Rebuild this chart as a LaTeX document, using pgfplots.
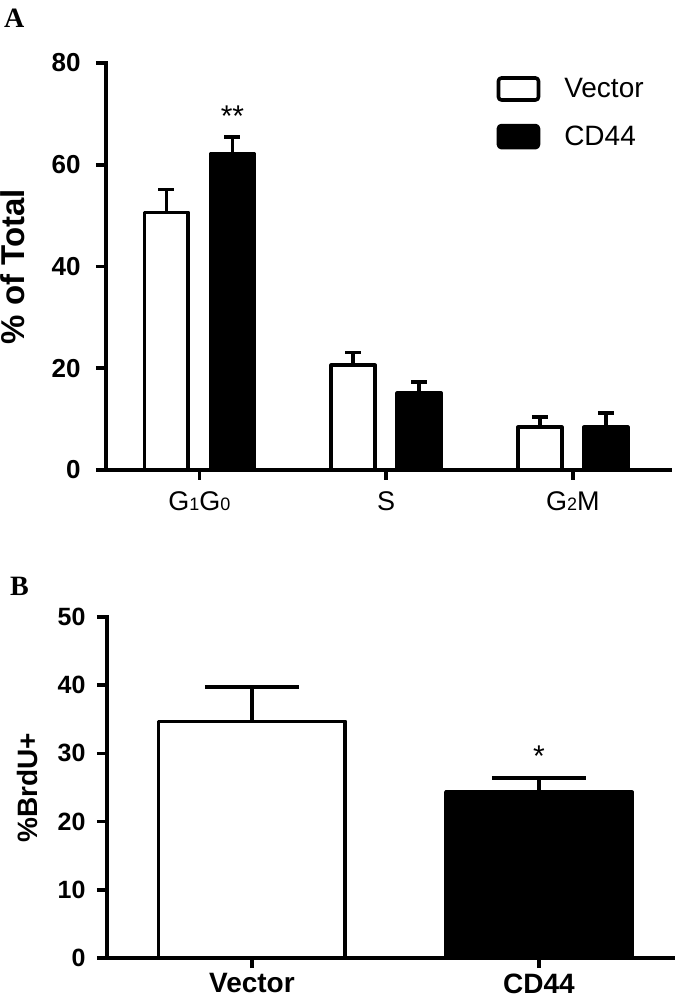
\documentclass[border=0pt]{standalone}
\usepackage{fontspec}
\setmainfont{Liberation Sans}
\newfontfamily\panelfont{Liberation Serif}
\usepackage{pgfplots}
\pgfplotsset{compat=1.18}

\pgfplotsset{
  gp/.style={
    scale only axis,
    axis lines=left,
    axis line style={-, line width=3.6pt, line cap=rect},
    every tick/.style={line width=3.6pt, black},
    tick align=outside,
    major tick length=10pt,
    /pgf/number format/assume math mode=true,
    clip=false,
  },
  vecbar/.style={ybar, bar shift=0pt, fill=white, draw=black, line width=3.6pt,
    line join=round,
    legend image code/.code={\draw[line width=3.6pt, fill=white, rounded corners=3pt] (0pt,-11pt) rectangle (40pt,11pt); \path (62pt,0pt);},
    error bars/y dir=plus, error bars/y explicit,
    error bars/error bar style={line width=3.6pt, black}},
  cdbar/.style={ybar, bar shift=0pt, fill=black, draw=black, line width=3.6pt,
    line join=round,
    legend image code/.code={\draw[line width=3.6pt, fill=black, rounded corners=3pt] (0pt,-11pt) rectangle (40pt,11pt); \path (62pt,0pt);},
    error bars/y dir=plus, error bars/y explicit,
    error bars/error bar style={line width=3.6pt, black}},
}

\begin{document}
\begin{tikzpicture}
\path[use as bounding box] (0pt,0pt) rectangle (683pt,997pt);

% panel letters
\node[font=\panelfont\bfseries\fontsize{28}{28}\selectfont, anchor=north west, inner sep=0pt] at (4pt,988pt) {A};
\node[font=\panelfont\bfseries\fontsize{28}{28}\selectfont, anchor=north west, inner sep=0pt] at (10pt,420pt) {B};

% ---- panel A: cell cycle distribution
\begin{axis}[gp,
  at={(106pt,527pt)}, anchor=south west,
  width=564pt, height=407pt,
  xmin=-0.5, xmax=2.52, ymin=0, ymax=80,
  ytick={0,20,40,60,80},
  xtick={0,1,2},
  xticklabels={G{\fontsize{18}{18}\selectfont 1}G{\fontsize{18}{18}\selectfont 0},
               S, G{\fontsize{18}{18}\selectfont 2}M},
  yticklabel style={font=\bfseries\fontsize{26}{26}\selectfont, xshift=-12pt},
  xticklabel style={font=\fontsize{27}{27}\selectfont, yshift=-8pt},
  every axis y label/.style={at={(rel axis cs:0,0.5)}, xshift=-93pt, rotate=90, anchor=center},
  ylabel={\% of Total},
  ylabel style={font=\bfseries\fontsize{33}{33}\selectfont},
  legend style={draw=none, fill=none, at={(rel axis cs:0.687,0.973)}, anchor=north west,
    font=\fontsize{28}{28}\selectfont, row sep=22pt},
  legend cell align=left,
]
\addplot[vecbar, bar width=0.235,
  error bars/error mark options={rotate=90, mark size=8pt, line width=3.6pt}]
  coordinates {(-0.177,50.6) +- (0,4.5) (0.823,20.6) +- (0,2.5) (1.823,8.4) +- (0,2.0)};
\addlegendentry{Vector}
\addplot[cdbar, bar width=0.235,
  error bars/error mark options={rotate=90, mark size=8pt, line width=3.6pt}]
  coordinates {(0.177,62.1) +- (0,3.4) (1.177,15.1) +- (0,2.2) (2.177,8.4) +- (0,2.8)};
\addlegendentry{CD44}
\node[font=\fontsize{30}{30}\selectfont] at (axis cs:0.177,69.6) {**};
\end{axis}

% ---- panel B: BrdU incorporation
\begin{axis}[gp,
  at={(107pt,39pt)}, anchor=south west,
  width=566pt, height=341pt,
  xmin=-0.505, xmax=1.467, ymin=0, ymax=50,
  ytick={0,10,20,30,40,50},
  xtick={0,1},
  xticklabels={Vector, CD44},
  yticklabel style={font=\bfseries\fontsize{25}{25}\selectfont, xshift=-8pt},
  xticklabel style={font=\bfseries\fontsize{28}{28}\selectfont, yshift=-2pt},
  every axis y label/.style={at={(rel axis cs:0,0.5)}, xshift=-80pt, rotate=90, anchor=center},
  ylabel={\%BrdU+},
  ylabel style={font=\bfseries\fontsize{28}{28}\selectfont},
]
\addplot[vecbar, bar width=0.65,
  error bars/error mark options={rotate=90, mark size=47pt, line width=3.6pt}]
  coordinates {(0,34.7) +- (0,5.0)};
\addplot[cdbar, bar width=0.65,
  error bars/error mark options={rotate=90, mark size=47pt, line width=3.6pt}]
  coordinates {(1,24.3) +- (0,2.1)};
\node[font=\fontsize{30}{30}\selectfont] at (axis cs:1,29.6) {*};
\end{axis}
\end{tikzpicture}
\end{document}
